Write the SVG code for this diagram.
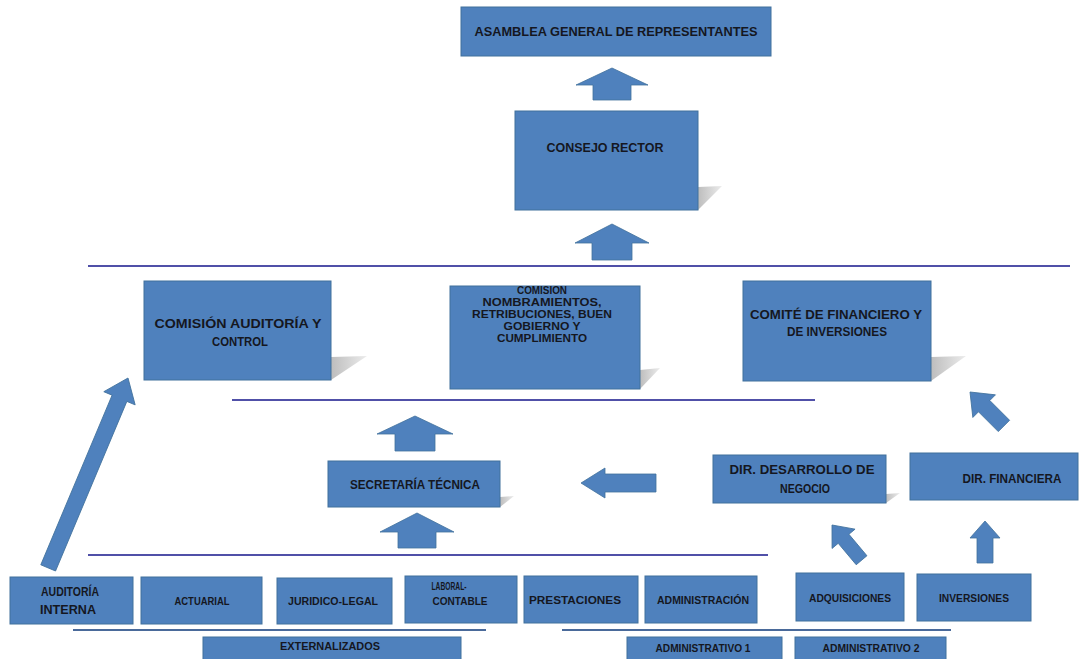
<svg xmlns="http://www.w3.org/2000/svg" width="1081" height="659" viewBox="0 0 1081 659">
<defs>
<style>
.box{fill:#4f81bd;stroke:#41719c;stroke-width:1}
.arr{fill:#4f81bd;stroke:#41719c;stroke-width:0.8}
.sh{fill:#cfcfcf}
.ln{stroke:#5050a8;stroke-width:2;fill:none}
text{font-family:"Liberation Sans",Arial,sans-serif;font-weight:bold;fill:#15171f;text-anchor:middle}
.t12{font-size:13px}
.t11{font-size:12px}
.t10{font-size:11px}
.t9{font-size:10px}
</style>
<linearGradient id="sg" x1="0" y1="0" x2="1" y2="0">
<stop offset="0" stop-color="#bdbdbd"/>
<stop offset="1" stop-color="#ececec"/>
</linearGradient>
</defs>
<rect width="1081" height="659" fill="#ffffff"/>

<g id="connectors">
<line class="ln" x1="88" y1="266" x2="1070" y2="266"/>
<line class="ln" x1="232" y1="400" x2="815" y2="400"/>
<line class="ln" x1="88" y1="555" x2="768" y2="555"/>
<line class="ln" x1="73" y1="630" x2="486" y2="630" style="stroke:#4a6a9a"/>
<line class="ln" x1="562" y1="630" x2="951" y2="630" style="stroke:#4a6a9a"/>
<polygon class="arr" transform="translate(612,68)" points="0,0 36,17 19,17 19,32 -19,32 -19,17 -36,17"/>
<polygon class="arr" transform="translate(612,224)" points="0,0 37,19 20,19 20,36 -20,36 -20,19 -37,19"/>
<polygon class="arr" transform="translate(415,416)" points="0,0 38,18 20,18 20,35 -20,35 -20,18 -38,18"/>
<polygon class="arr" transform="translate(417,513)" points="0,0 37,19 19,19 19,35 -19,35 -19,19 -37,19"/>
<polygon class="arr" transform="translate(985,521)" points="0,0 15,17 8,17 8,42 -8,42 -8,17 -15,17"/>
<polygon class="arr" transform="translate(581,483) rotate(-90)" points="0,0 15,24 9,24 9,75 -9,75 -9,24 -15,24"/>
<polygon class="arr" transform="translate(832,525) rotate(-40)" points="0,0 15,18 7,18 7,46 -7,46 -7,18 -15,18"/>
<polygon class="arr" transform="translate(970,392) rotate(-45)" points="0,0 16,20 8,20 8,48 -8,48 -8,20 -16,20"/>
<polygon class="arr" transform="translate(128,378) rotate(22.8)" points="0,0 17,22 8,22 8,206 -8,206 -8,22 -17,22"/>
</g>

<g id="asamblea">
<rect class="box" x="461" y="7" width="310" height="49"/>
<text class="t12" x="616" y="36" textLength="283" lengthAdjust="spacingAndGlyphs">ASAMBLEA GENERAL DE REPRESENTANTES</text>
</g>

<g id="consejo">
<polygon class="sh" style="fill:url(#sg)" points="698,187 722,186 698,210"/>
<rect class="box" x="515" y="111" width="183" height="99"/>
<text class="t12" x="605" y="152" textLength="117" lengthAdjust="spacingAndGlyphs">CONSEJO RECTOR</text>
</g>

<g id="comision-auditoria">
<polygon class="sh" style="fill:url(#sg)" points="331,357 367,356 331,380"/>
<rect class="box" x="144" y="281" width="187" height="99"/>
<text class="t12" x="238" y="328" textLength="167" lengthAdjust="spacingAndGlyphs">COMISIÓN AUDITORÍA Y</text>
<text class="t12" x="240" y="346" textLength="56" lengthAdjust="spacingAndGlyphs">CONTROL</text>
</g>

<g id="comision-nombramientos">
<polygon class="sh" style="fill:url(#sg)" points="640,370 660,368 640,389"/>
<rect class="box" x="450" y="286" width="190" height="103"/>
<text class="t9" x="542" y="294" textLength="50" lengthAdjust="spacingAndGlyphs">COMISION</text>
<text class="t9" x="542" y="306" textLength="119" lengthAdjust="spacingAndGlyphs">NOMBRAMIENTOS,</text>
<text class="t9" x="542" y="318" textLength="140" lengthAdjust="spacingAndGlyphs">RETRIBUCIONES, BUEN</text>
<text class="t9" x="542" y="330" textLength="77" lengthAdjust="spacingAndGlyphs">GOBIERNO Y</text>
<text class="t9" x="542" y="342" textLength="90" lengthAdjust="spacingAndGlyphs">CUMPLIMIENTO</text>
</g>

<g id="comite">
<polygon class="sh" style="fill:url(#sg)" points="931,357 966,356 931,381"/>
<rect class="box" x="743" y="281" width="188" height="100"/>
<text class="t12" x="836" y="319" textLength="172" lengthAdjust="spacingAndGlyphs">COMITÉ DE FINANCIERO Y</text>
<text class="t12" x="837" y="336" textLength="100" lengthAdjust="spacingAndGlyphs">DE INVERSIONES</text>
</g>

<g id="secretaria">
<polygon class="sh" style="fill:url(#sg)" points="500,497 514,496 500,507"/>
<rect class="box" x="328" y="461" width="172" height="46"/>
<text class="t11" x="415" y="489" textLength="130" lengthAdjust="spacingAndGlyphs">SECRETARÍA TÉCNICA</text>
</g>

<g id="dir-desarrollo">
<polygon class="sh" style="fill:url(#sg)" points="886,494 900,493 886,503"/>
<rect class="box" x="713" y="455" width="173" height="48"/>
<text class="t12" x="802" y="474" textLength="145" lengthAdjust="spacingAndGlyphs">DIR. DESARROLLO DE</text>
<text class="t12" x="805" y="493" textLength="50" lengthAdjust="spacingAndGlyphs">NEGOCIO</text>
</g>

<g id="dir-financiera">
<rect class="box" x="910" y="453" width="168" height="47"/>
<text class="t12" x="1012" y="483" textLength="99" lengthAdjust="spacingAndGlyphs">DIR. FINANCIERA</text>
</g>

<g id="auditoria-interna">
<rect class="box" x="10" y="577" width="123" height="47"/>
<text class="t11" x="70" y="596" textLength="58" lengthAdjust="spacingAndGlyphs">AUDITORÍA</text>
<text class="t11" x="68" y="614" textLength="56" lengthAdjust="spacingAndGlyphs">INTERNA</text>
</g>

<g id="actuarial">
<rect class="box" x="141" y="577" width="121" height="47"/>
<text class="t10" x="202" y="605" textLength="55" lengthAdjust="spacingAndGlyphs">ACTUARIAL</text>
</g>

<g id="juridico">
<rect class="box" x="277" y="578" width="115" height="46"/>
<text class="t10" x="333" y="605" textLength="90" lengthAdjust="spacingAndGlyphs">JURIDICO-LEGAL</text>
</g>

<g id="laboral">
<rect class="box" x="405" y="576" width="112" height="47"/>
<text class="t10" x="449" y="590" textLength="35" lengthAdjust="spacingAndGlyphs">LABORAL-</text>
<text class="t10" x="460" y="605" textLength="55" lengthAdjust="spacingAndGlyphs">CONTABLE</text>
</g>

<g id="prestaciones">
<rect class="box" x="524" y="576" width="114" height="47"/>
<text class="t10" x="575" y="604" textLength="92" lengthAdjust="spacingAndGlyphs">PRESTACIONES</text>
</g>

<g id="administracion">
<rect class="box" x="645" y="576" width="112" height="47"/>
<text class="t10" x="703" y="604" textLength="92" lengthAdjust="spacingAndGlyphs">ADMINISTRACIÓN</text>
</g>

<g id="adquisiciones">
<rect class="box" x="796" y="573" width="108" height="48"/>
<text class="t10" x="850" y="602" textLength="82" lengthAdjust="spacingAndGlyphs">ADQUISICIONES</text>
</g>

<g id="inversiones">
<rect class="box" x="917" y="574" width="114" height="47"/>
<text class="t10" x="974" y="602" textLength="70" lengthAdjust="spacingAndGlyphs">INVERSIONES</text>
</g>

<g id="externalizados">
<rect class="box" x="203" y="637" width="258" height="24"/>
<text class="t10" x="330" y="650" textLength="100" lengthAdjust="spacingAndGlyphs">EXTERNALIZADOS</text>
</g>

<g id="administrativo1">
<rect class="box" x="627" y="637" width="155" height="24"/>
<text class="t10" x="703" y="652" textLength="95" lengthAdjust="spacingAndGlyphs">ADMINISTRATIVO 1</text>
</g>

<g id="administrativo2">
<rect class="box" x="795" y="637" width="151" height="24"/>
<text class="t10" x="871" y="652" textLength="97" lengthAdjust="spacingAndGlyphs">ADMINISTRATIVO 2</text>
</g>
</svg>
